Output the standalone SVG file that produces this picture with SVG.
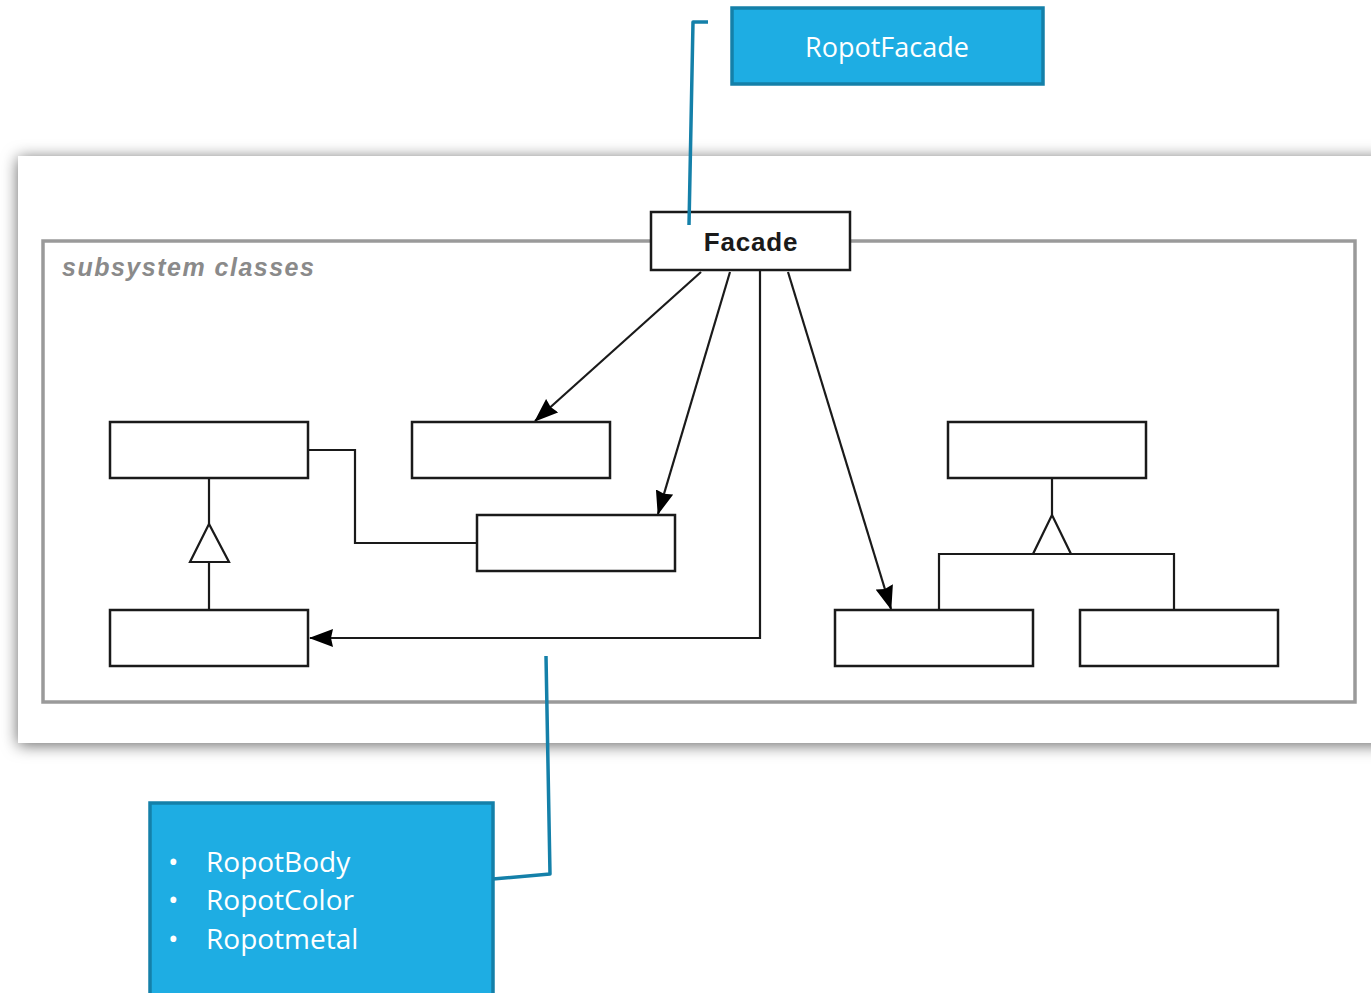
<svg xmlns="http://www.w3.org/2000/svg" width="1371" height="993" viewBox="0 0 1371 993">
  <style>
    .cls { fill: #ffffff; stroke: #1a1a1a; stroke-width: 2.5; }
    .link { fill: none; stroke: #1a1a1a; stroke-width: 2.2; }
    .call { fill: #1eade3; stroke: #1480a9; stroke-width: 3.5; }
    .lead { fill: none; stroke: #1480a9; stroke-width: 3.5; stroke-linejoin: round; }
    .note { fill: #ffffff; font-family: "Open Sans", "Liberation Sans", sans-serif; }
  </style>
  <defs>
    <filter id="panelShadow" x="-5%" y="-10%" width="110%" height="120%">
      <feDropShadow dx="0" dy="2" stdDeviation="8" flood-color="#000000" flood-opacity="0.6"/>
    </filter>
    <marker id="arrow" viewBox="0 0 24 18" refX="23" refY="9" markerWidth="24" markerHeight="18" markerUnits="userSpaceOnUse" orient="auto">
      <path d="M0,0 L24,9 L0,18 L2,9 Z" fill="#000000"/>
    </marker>
  </defs>

  <!-- picture panel -->
  <rect x="18" y="156" width="1370" height="587" fill="#ffffff" filter="url(#panelShadow)"/>

  <!-- subsystem frame -->
  <g id="subsystem">
    <rect x="43" y="241" width="1312" height="461" fill="none" stroke="#9a9a9a" stroke-width="3.5"/>
    <text x="62" y="276" font-family="'Liberation Sans', Arial, sans-serif" font-size="25" letter-spacing="1.5" font-style="italic" font-weight="bold" fill="#8a8a8a">subsystem classes</text>
  </g>

  <!-- connectors -->
  <g id="connectors">
    <line class="link" x1="701" y1="272" x2="535" y2="421" marker-end="url(#arrow)"/>
    <line class="link" x1="730" y1="272" x2="658" y2="514" marker-end="url(#arrow)"/>
    <line class="link" x1="788" y1="272" x2="891" y2="609" marker-end="url(#arrow)"/>
    <polyline class="link" points="760,271 760,638 310,638" marker-end="url(#arrow)"/>
    <polyline class="link" points="308,450 355,450 355,543 477,543"/>
    <!-- generalisation on the left -->
    <line class="link" x1="209" y1="478" x2="209" y2="524"/>
    <polygon points="209,524 190,562 229,562" fill="#ffffff" stroke="#1a1a1a" stroke-width="2.2"/>
    <line class="link" x1="209" y1="562" x2="209" y2="610"/>
    <!-- generalisation on the right -->
    <line class="link" x1="1052" y1="478" x2="1052" y2="515"/>
    <polygon points="1052,515 1033,554 1071,554" fill="#ffffff" stroke="#1a1a1a" stroke-width="2.2"/>
    <polyline class="link" points="939,610 939,554 1174,554 1174,610"/>
  </g>

  <!-- facade -->
  <g id="facade">
    <rect class="cls" x="651" y="212" width="199" height="58"/>
    <text x="751" y="251" text-anchor="middle" font-family="'Liberation Sans', Arial, sans-serif" font-size="26" letter-spacing="0.8" font-weight="bold" fill="#1a1a1a">Facade</text>
  </g>

  <!-- subsystem classes -->
  <g id="class-a"><rect class="cls" x="110" y="422" width="198" height="56"/></g>
  <g id="class-b"><rect class="cls" x="412" y="422" width="198" height="56"/></g>
  <g id="class-c"><rect class="cls" x="477" y="515" width="198" height="56"/></g>
  <g id="class-d"><rect class="cls" x="110" y="610" width="198" height="56"/></g>
  <g id="class-e"><rect class="cls" x="948" y="422" width="198" height="56"/></g>
  <g id="class-f"><rect class="cls" x="835" y="610" width="198" height="56"/></g>
  <g id="class-g"><rect class="cls" x="1080" y="610" width="198" height="56"/></g>

  <!-- callout leaders, drawn above the diagram -->
  <g id="leaders">
    <polyline class="lead" points="708,22 693,22 689,225"/>
    <polyline class="lead" points="493,879 550,874 546,656"/>
  </g>

  <!-- callouts -->
  <g id="note-facade">
    <rect class="call" x="732" y="8" width="311" height="76"/>
    <text class="note" x="887" y="57" text-anchor="middle" font-size="27">RopotFacade</text>
  </g>
  <g id="note-classes">
    <rect class="call" x="150" y="803" width="343" height="200"/>
    <text class="note" font-size="28">
      <tspan x="168" y="872">•</tspan><tspan x="206" y="872">RopotBody</tspan>
      <tspan x="168" y="910">•</tspan><tspan x="206" y="910">RopotColor</tspan>
      <tspan x="168" y="949">•</tspan><tspan x="206" y="949">Ropotmetal</tspan>
    </text>
  </g>
</svg>
